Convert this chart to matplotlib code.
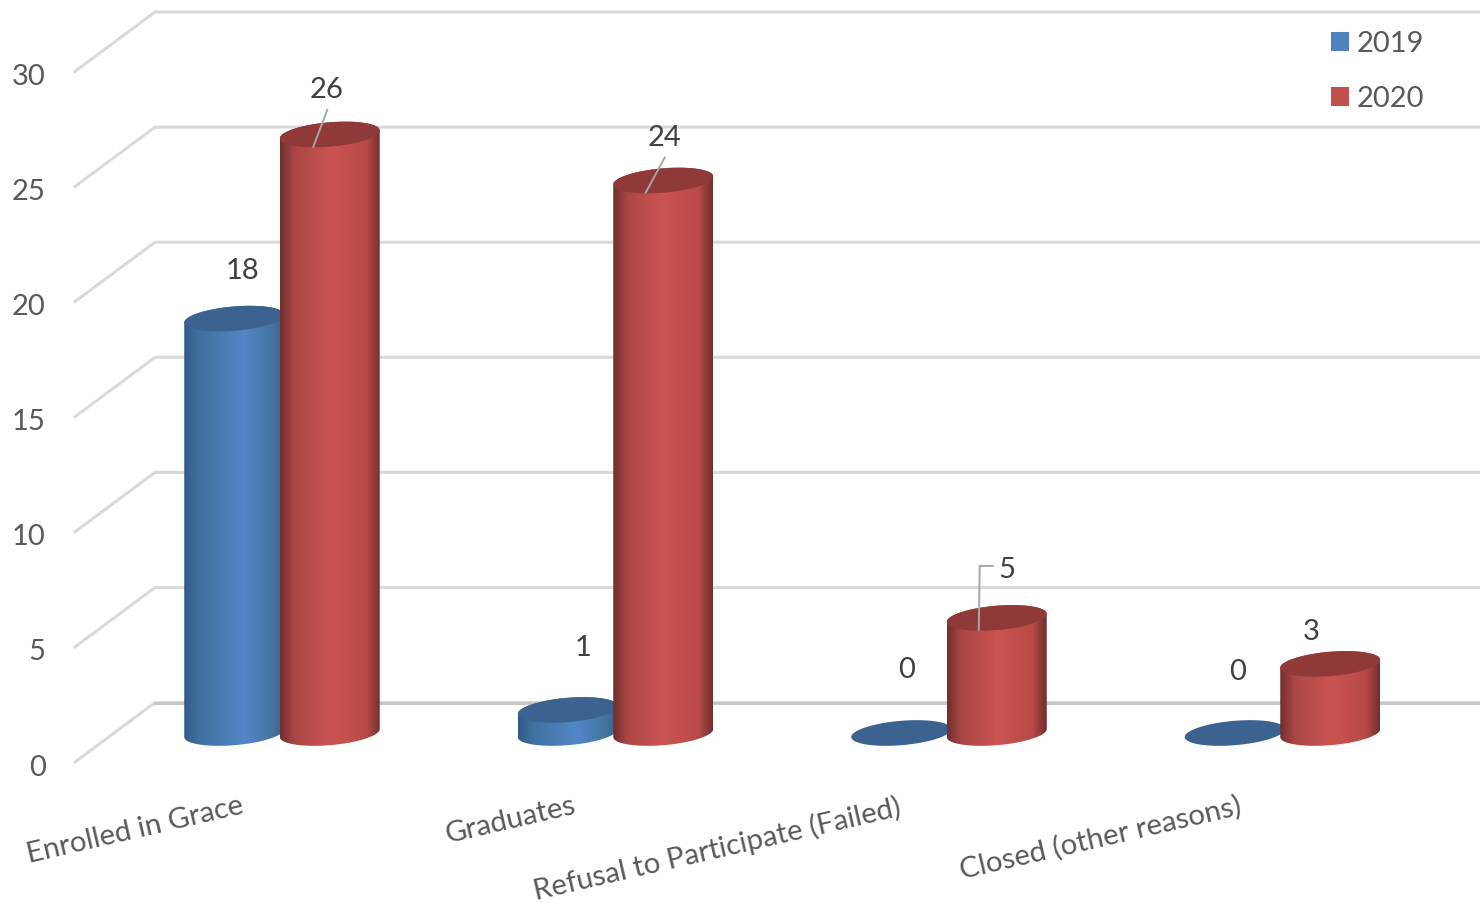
import numpy as np
import matplotlib
matplotlib.use("Agg")
import matplotlib.pyplot as plt
from matplotlib.colors import LinearSegmentedColormap
from matplotlib.patches import Patch, PathPatch, Polygon
from matplotlib.path import Path

plt.rcParams["font.family"] = ["Lato", "DejaVu Sans"]

# Chart values
CATEGORIES = ["Enrolled in Grace", "Graduates", "Refusal to Participate (Failed)", "Closed (other reasons)"]
YEARS = ["2019", "2020"]
VALUES_2019 = [18, 1, 0, 0]
VALUES_2020 = [26, 24, 5, 3]
Y_TICKS = [0, 5, 10, 15, 20, 25, 30]

# Scale of the picture (pixels per unit, position of the first category and of value 0)
PX_W, PX_H = 1480, 907
PX_PER_CAT = 333.5
PX_PER_VAL = 23.02
CAT0_X = 282
ZERO_Y = 733

# Cylinder shape in pixels
HALF_W = 50
ELL_H = 12.2
ELL_SHEAR = 4
BAR_OFFSET = 47.75

# Floor depth of the wall, in pixels from the bar base line
BACK_DY = 30.4
BACK_X = 155
FRONT_DY = -29
FRONT_X = 75

GRID = "#d9d9d9"
FLOOR = "#c6c6c6"
LEADER = "#a6a6a6"
AXIS_TEXT = "#595959"
DATA_TEXT = "#404040"

BLUE_MAP = LinearSegmentedColormap.from_list(
    "blue", [(0, "#2f5a88"), (0.14, "#41709f"), (0.6, "#5287c8"), (0.88, "#44749f"), (1, "#36608c")])
RED_MAP = LinearSegmentedColormap.from_list(
    "red", [(0, "#6f2f2e"), (0.14, "#aa4644"), (0.5, "#cb5451"), (0.86, "#b84a48"), (1, "#702e2d")])
TOP_COLORS = ["#3c628f", "#8f3a38"]
LEGEND_COLORS = ["#4f81bd", "#c0504d"]

# Label placement, pixels from the top centre of each bar
LABEL_OFFSETS = [
    [(8, -47.5), (15, -61.5), (5, -63.5), (3, -61.5)],
    [(-3.5, -44.5), (1, -42.5), (10, -47.5), (-19, -31.5)],
]
# Leader lines of the 2020 labels, pixels from the top centre of the bar
LEADERS = {
    0: [(-2.5, -24.5), (-16.5, 12.5)],
    1: [(1.5, -23), (-17.5, 12)],
    2: [(-4, -52), (-17, -52), (-18, 12)],
}
# Right end of each category label, pixels from the group centre
NAME_OFFSETS = [-36, -37.5, -46, -39]


# Pixel widths and heights to data units
def dx(px):
    return px / PX_PER_CAT


def dy(px):
    return px / PX_PER_VAL


# Outline of a cylinder end, centre in data units
def ellipse_points(cx, cy, start=0, stop=2 * np.pi):
    t = np.linspace(start, stop, 80)
    x = cx + dx(HALF_W) * np.cos(t)
    y = cy + dy(ELL_H) * np.sin(t) + dy(ELL_SHEAR) * np.cos(t)
    return np.column_stack([x, y])


# One shaded cylinder standing on value 0
def draw_cylinder(ax, cx, value, cmap, top_color, zorder):
    if value > 0:
        lower = ellipse_points(cx, 0, np.pi, 2 * np.pi)
        upper = ellipse_points(cx, value, 0, np.pi)
        outline = np.vstack([lower, upper, lower[:1]])
        clip = PathPatch(Path(outline), transform=ax.transData, facecolor="none", edgecolor="none")
        ax.add_patch(clip)
        gradient = np.linspace(0, 1, 256).reshape(1, -1)
        img = ax.imshow(gradient, cmap=cmap, aspect="auto", zorder=zorder,
                        extent=[cx - dx(HALF_W), cx + dx(HALF_W), -1, value + 1])
        img.set_clip_path(clip)
    ax.add_patch(Polygon(ellipse_points(cx, value), closed=True, facecolor=top_color,
                         edgecolor="none", zorder=zorder + 0.1))


def main():
    fig = plt.figure(figsize=(PX_W / 100, PX_H / 100), dpi=100)
    ax = fig.add_axes([0, 0, 1, 1])
    ax.axis("off")

    x_left = -CAT0_X / PX_PER_CAT
    x_right = (PX_W - CAT0_X) / PX_PER_CAT
    y_bottom = (ZERO_Y - PX_H) / PX_PER_VAL
    y_top = ZERO_Y / PX_PER_VAL
    x_front = x_left + dx(FRONT_X)
    x_back = x_left + dx(BACK_X)

    # Gridlines: back wall and the slanted side wall
    for v in Y_TICKS:
        ax.plot([x_front, x_back, x_right], [v + dy(FRONT_DY), v + dy(BACK_DY), v + dy(BACK_DY)],
                color=GRID, lw=2.2, solid_joinstyle="miter", zorder=1)
        ax.text(x_left + dx(45.5), v + dy(FRONT_DY) - dy(5.5), str(v), ha="right", va="center",
                fontsize=21, color=AXIS_TEXT)
    # The floor edge on the back wall is a little darker
    ax.plot([x_back, x_right], [dy(BACK_DY), dy(BACK_DY)], color=FLOOR, lw=2.2, zorder=1.1)

    # Cylinders, blue behind red inside each group
    for i in range(len(CATEGORIES)):
        z = 2 + i
        draw_cylinder(ax, i - dx(BAR_OFFSET), VALUES_2019[i], BLUE_MAP, TOP_COLORS[0], z)
        draw_cylinder(ax, i + dx(BAR_OFFSET), VALUES_2020[i], RED_MAP, TOP_COLORS[1], z + 0.2)

    # Value labels
    for s, values in enumerate([VALUES_2019, VALUES_2020]):
        sign = -1 if s == 0 else 1
        for i, v in enumerate(values):
            off = LABEL_OFFSETS[s][i]
            ax.text(i + sign * dx(BAR_OFFSET) + dx(off[0]), v - dy(off[1]), str(v),
                    ha="center", va="center", fontsize=21, color=DATA_TEXT, zorder=20)

    # Leader lines
    for i, pts in LEADERS.items():
        xs = [i + dx(BAR_OFFSET) + dx(p[0]) for p in pts]
        ys = [VALUES_2020[i] - dy(p[1]) for p in pts]
        ax.plot(xs, ys, color=LEADER, lw=1.4, zorder=15)

    # Slanted category labels, right end near the group centre
    for i, name in enumerate(CATEGORIES):
        ax.text(i + dx(NAME_OFFSETS[i]), dy(ZERO_Y - 793), name, rotation=13, ha="right", va="top",
                fontsize=21.2, color=AXIS_TEXT)

    handles = [Patch(facecolor=c, edgecolor="none") for c in LEGEND_COLORS]
    ax.legend(handles, YEARS, loc="upper left", bbox_to_anchor=(1331 / PX_W, 1 - 31 / PX_H),
              bbox_transform=fig.transFigure, frameon=False, fontsize=21, labelcolor=AXIS_TEXT,
              handlelength=0.62, handleheight=0.62, handletextpad=0.25, labelspacing=1.0,
              borderpad=0, borderaxespad=0)

    ax.set_xlim(x_left, x_right)
    ax.set_ylim(y_bottom, y_top)
    fig.savefig("out.png", dpi=100)
    plt.close(fig)


if __name__ == "__main__":
    main()
